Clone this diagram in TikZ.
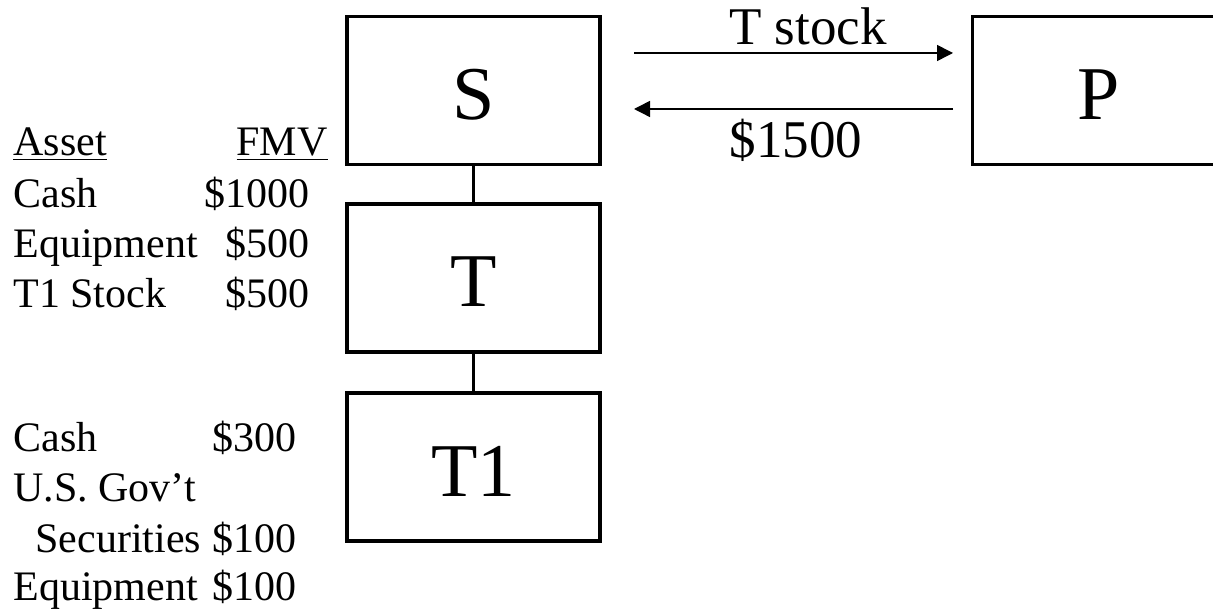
\documentclass[tikz,border=0pt]{standalone}
\usepackage{fontspec}
\setmainfont{Liberation Serif}
\usetikzlibrary{arrows.meta}

\tikzset{
  entity/.style={draw, line width=1.75pt, minimum width=126.5pt, minimum height=74pt,
    inner sep=0pt, text height=29pt, text depth=0pt, font=\fontsize{38}{40}\selectfont},
  flow/.style={-{Triangle[length=8pt,width=8pt]}, line width=0.75pt},
  item/.style={anchor=base west, inner sep=0pt, font=\fontsize{21}{25}\selectfont},
  value/.style={anchor=base east, inner sep=0pt, font=\fontsize{21}{25}\selectfont},
  tag/.style={anchor=base, inner sep=0pt, font=\fontsize{26.5}{30}\selectfont}
}

\begin{document}
\begin{tikzpicture}[x=0.5pt, y=-0.5pt]
    \useasboundingbox (0,0) rectangle (1213,613);
    % Corporations
    \node[entity] (S) at (473.5,90.5) {S};
    \node[entity] (T) at (473.5,278) {T};
    \node[entity] (T1) at (473.5,467) {T1};
    \node[entity] (P) at (1099,90.5) {P};
    % Ownership links
    \draw[line width=1.5pt] (S) -- (T);
    \draw[line width=1.5pt] (T) -- (T1);
    % Exchange between S and P
    \coordinate (stockfrom) at (634,53);
    \coordinate (stockto) at (953,53);
    \coordinate (cashfrom) at (953,109);
    \coordinate (cashto) at (634,109);
    \draw[flow] (stockfrom) -- (stockto);
    \draw[flow] (cashfrom) -- (cashto);
    \node[tag] (stocklbl) at (808,45) {T stock};
    \node[tag] (cashlbl) at (796,158) {\$1500};
    % Assets of T
    \node[item] (asset) at (13,156) {\underline{Asset}};
    \node[value] (fmv) at (328,156) {\underline{FMV}};
    \node[item] (tcash) at (13,208) {Cash};
    \node[value] (tcashv) at (310,208) {\$1000};
    \node[item] (tequip) at (13,258) {Equipment};
    \node[value] (tequipv) at (310,258) {\$500};
    \node[item] (tstock) at (13,308) {T1 Stock};
    \node[value] (tstockv) at (310,308) {\$500};
    % Assets of T1
    \node[item] (cash) at (13,452) {Cash};
    \node[value] (cashv) at (297,452) {\$300};
    \node[item] (gov) at (13,502) {U.S. Gov’t};
    \node[item] (sec) at (35,552) {Securities};
    \node[value] (secv) at (297,552) {\$100};
    \node[item] (equip) at (13,600) {Equipment};
    \node[value] (equipv) at (297,600) {\$100};
\end{tikzpicture}
\end{document}
